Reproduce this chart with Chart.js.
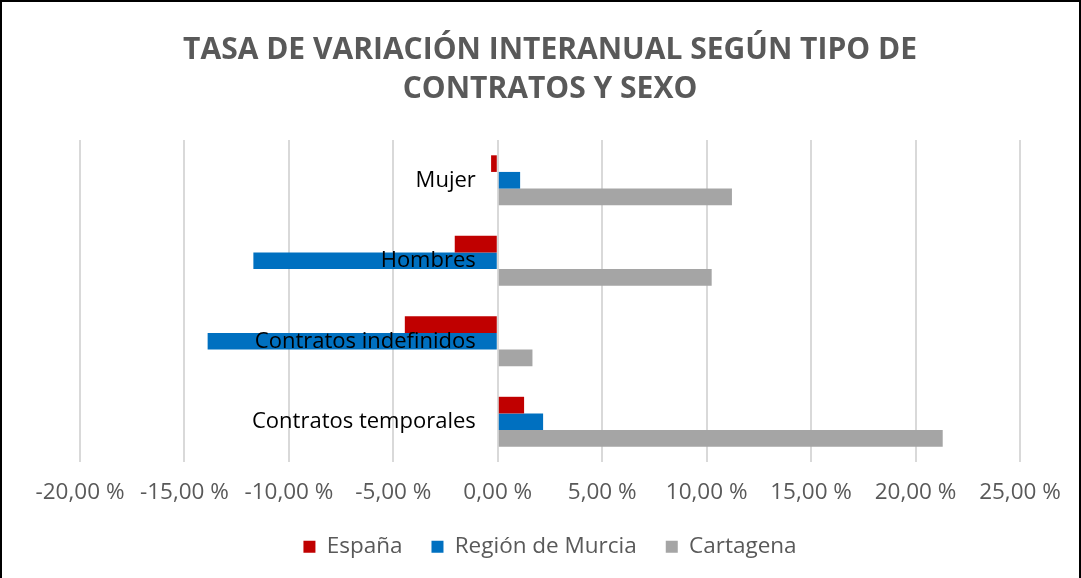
<!DOCTYPE html>
<html>
<head>
<meta charset="utf-8">
<script src="https://cdn.jsdelivr.net/npm/chart.js@4.4.1/dist/chart.umd.min.js"></script>
<style>
  html, body { margin: 0; padding: 0; background: #fff; }
  #wrap { position: relative; width: 1081px; height: 578px; box-sizing: border-box;
          border-left: 2px solid #000; border-top: 2px solid #000; border-right: 2px solid #000; }
  canvas { position: absolute; left: -2px; top: -2px; }
</style>
</head>
<body>
<div id="wrap"><canvas id="chart" width="1081" height="578"></canvas></div>
<script>
  // categorías (de arriba a abajo) y series, tasas en %
  var categories = ['Mujer', 'Hombres', 'Contratos indefinidos', 'Contratos temporales'];
  var espana = [-0.32, -2.06, -4.45, 1.26];
  var murcia = [1.07, -11.70, -13.89, 2.17];
  var cartagena = [11.21, 10.24, 1.66, 21.30];
  var seriesNames = ['España', 'Región de Murcia', 'Cartagena'];
  var seriesColors = ['#C00000', '#0070C0', '#A5A5A5'];
  var titleLines = ['TASA DE VARIACIÓN INTERANUAL SEGÚN TIPO DE', 'CONTRATOS Y SEXO'];

  var FONT = '"Open Sans", "Noto Sans", sans-serif';

  function fmtPct(v) {
    return v.toFixed(2).replace('.', ',') + ' %';
  }

  // etiquetas de categoría junto al eje cero, por encima de las barras
  var categoryLabels = {
    id: 'categoryLabels',
    afterDatasetsDraw: function (chart) {
      var ctx = chart.ctx;
      var xs = chart.scales.x, ys = chart.scales.y;
      var x0 = xs.getPixelForValue(0);
      ctx.save();
      ctx.font = '22px ' + FONT;
      ctx.fillStyle = '#000';
      ctx.textAlign = 'right';
      ctx.textBaseline = 'middle';
      categories.forEach(function (c, i) {
        ctx.fillText(c, x0 - 22, ys.getPixelForValue(i));
      });
      ctx.restore();
    }
  };

  var datasets = [espana, murcia, cartagena].map(function (d, i) {
    return {
      label: seriesNames[i],
      data: d,
      backgroundColor: seriesColors[i],
      borderWidth: 0,
      categoryPercentage: 0.62,
      barPercentage: 1
    };
  });

  new Chart(document.getElementById('chart').getContext('2d'), {
    type: 'bar',
    data: { labels: categories, datasets: datasets },
    plugins: [categoryLabels],
    options: {
      indexAxis: 'y',
      responsive: false,
      animation: false,
      layout: { padding: { left: 80, right: 61, top: 0, bottom: 10 } },
      scales: {
        x: {
          min: -20,
          max: 25,
          ticks: {
            stepSize: 5,
            padding: 0,
            maxRotation: 0,
            color: '#595959',
            font: { family: FONT, size: 22.5 },
            callback: function (v) { return fmtPct(v); }
          },
          grid: { color: '#D9D9D9', lineWidth: 2, drawTicks: true, tickLength: 17.5, tickColor: 'rgba(0,0,0,0)' },
          border: { display: false }
        },
        y: {
          display: false
        }
      },
      plugins: {
        title: {
          display: true,
          text: titleLines,
          color: '#595959',
          font: { family: FONT, size: 30, weight: 'bold', lineHeight: 1.3 },
          padding: { top: 31, bottom: 31 }
        },
        legend: {
          position: 'bottom',
          labels: {
            boxWidth: 12,
            boxHeight: 12,
            padding: 29,
            color: '#595959',
            font: { family: FONT, size: 22.5 }
          }
        },
        tooltip: { enabled: false }
      }
    }
  });
</script>
</body>
</html>
